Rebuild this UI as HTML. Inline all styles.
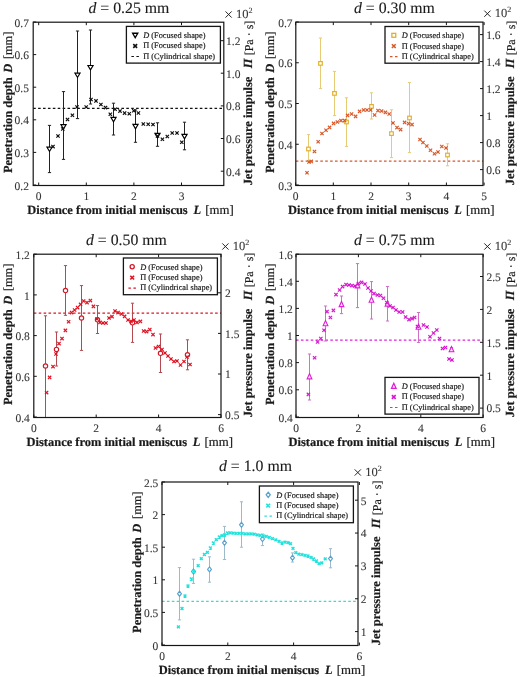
<!DOCTYPE html>
<html><head><meta charset="utf-8"><style>
html,body{margin:0;padding:0;background:#fff;}
svg{display:block;filter:blur(0.3px);}
text{font-family:"Liberation Serif", serif;fill:#1a1a1a;text-rendering:geometricPrecision;}
.tk{font-size:11.5px;fill:#363636;stroke:#363636;stroke-width:0.1px;}
.ti{font-size:15.8px;stroke:#1a1a1a;stroke-width:0.12px;}
.al{font-size:12.45px;font-weight:bold;stroke:#1a1a1a;stroke-width:0.2px;}
.lg{font-size:8.3px;fill:#1a1a1a;stroke:#1a1a1a;stroke-width:0.18px;}
</style></head><body>
<svg width="520" height="677" viewBox="0 0 520 677">
<rect width="520" height="677" fill="#fff"/>
<clipPath id="c3322"><rect x="33.2" y="22.2" width="190.60" height="163.30"/></clipPath>
<g clip-path="url(#c3322)">
<line x1="33.2" y1="108.4" x2="223.8" y2="108.4" stroke="#111" stroke-width="1.2" stroke-dasharray="2.6,2.3"/>
<path d="M49.50,125.40V172.60M47.90,125.40H51.10M47.90,172.60H51.10" stroke="#222" stroke-width="1" fill="none"/>
<path d="M46.90,147.05L52.10,147.05L49.50,151.47Z" fill="#fff" stroke="#000" stroke-width="1.15" stroke-linejoin="miter"/>
<path d="M63.50,91.60V159.40M61.90,91.60H65.10M61.90,159.40H65.10" stroke="#222" stroke-width="1" fill="none"/>
<path d="M60.90,124.65L66.10,124.65L63.50,129.07Z" fill="#fff" stroke="#000" stroke-width="1.15" stroke-linejoin="miter"/>
<path d="M77.50,31.00V118.60M75.90,31.00H79.10M75.90,118.60H79.10" stroke="#222" stroke-width="1" fill="none"/>
<path d="M74.90,73.05L80.10,73.05L77.50,77.47Z" fill="#fff" stroke="#000" stroke-width="1.15" stroke-linejoin="miter"/>
<path d="M90.50,30.00V104.00M88.90,30.00H92.10M88.90,104.00H92.10" stroke="#222" stroke-width="1" fill="none"/>
<path d="M87.90,65.45L93.10,65.45L90.50,69.87Z" fill="#fff" stroke="#000" stroke-width="1.15" stroke-linejoin="miter"/>
<path d="M113.50,103.20V135.00M111.90,103.20H115.10M111.90,135.00H115.10" stroke="#222" stroke-width="1" fill="none"/>
<path d="M110.90,117.35L116.10,117.35L113.50,121.77Z" fill="#fff" stroke="#000" stroke-width="1.15" stroke-linejoin="miter"/>
<path d="M135.50,110.00V142.30M133.90,110.00H137.10M133.90,142.30H137.10" stroke="#222" stroke-width="1" fill="none"/>
<path d="M132.90,124.35L138.10,124.35L135.50,128.77Z" fill="#fff" stroke="#000" stroke-width="1.15" stroke-linejoin="miter"/>
<path d="M157.50,122.80V146.30M155.90,122.80H159.10M155.90,146.30H159.10" stroke="#222" stroke-width="1" fill="none"/>
<path d="M154.90,133.35L160.10,133.35L157.50,137.77Z" fill="#fff" stroke="#000" stroke-width="1.15" stroke-linejoin="miter"/>
<path d="M184.50,122.20V149.80M182.90,122.20H186.10M182.90,149.80H186.10" stroke="#222" stroke-width="1" fill="none"/>
<path d="M181.90,134.35L187.10,134.35L184.50,138.77Z" fill="#fff" stroke="#000" stroke-width="1.15" stroke-linejoin="miter"/>
<path d="M51.35,144.95L54.65,148.25M51.35,148.25L54.65,144.95" stroke="#111" stroke-width="1.2"/>
<path d="M56.35,134.35L59.65,137.65M56.35,137.65L59.65,134.35" stroke="#111" stroke-width="1.2"/>
<path d="M61.15,127.35L64.45,130.65M61.15,130.65L64.45,127.35" stroke="#111" stroke-width="1.2"/>
<path d="M65.85,117.85L69.15,121.15M65.85,121.15L69.15,117.85" stroke="#111" stroke-width="1.2"/>
<path d="M70.75,113.55L74.05,116.85M70.75,116.85L74.05,113.55" stroke="#111" stroke-width="1.2"/>
<path d="M75.35,105.35L78.65,108.65M75.35,108.65L78.65,105.35" stroke="#111" stroke-width="1.2"/>
<path d="M84.55,105.35L87.85,108.65M84.55,108.65L87.85,105.35" stroke="#111" stroke-width="1.2"/>
<path d="M89.35,97.85L92.65,101.15M89.35,101.15L92.65,97.85" stroke="#111" stroke-width="1.2"/>
<path d="M94.35,99.25L97.65,102.55M94.35,102.55L97.65,99.25" stroke="#111" stroke-width="1.2"/>
<path d="M99.25,102.85L102.55,106.15M99.25,106.15L102.55,102.85" stroke="#111" stroke-width="1.2"/>
<path d="M103.85,105.95L107.15,109.25M103.85,109.25L107.15,105.95" stroke="#111" stroke-width="1.2"/>
<path d="M108.65,112.65L111.95,115.95M108.65,115.95L111.95,112.65" stroke="#111" stroke-width="1.2"/>
<path d="M113.45,107.65L116.75,110.95M113.45,110.95L116.75,107.65" stroke="#111" stroke-width="1.2"/>
<path d="M118.35,109.45L121.65,112.75M118.35,112.75L121.65,109.45" stroke="#111" stroke-width="1.2"/>
<path d="M122.95,111.45L126.25,114.75M122.95,114.75L126.25,111.45" stroke="#111" stroke-width="1.2"/>
<path d="M127.65,112.05L130.95,115.35M127.65,115.35L130.95,112.05" stroke="#111" stroke-width="1.2"/>
<path d="M132.15,109.05L135.45,112.35M132.15,112.35L135.45,109.05" stroke="#111" stroke-width="1.2"/>
<path d="M136.75,111.35L140.05,114.65M136.75,114.65L140.05,111.35" stroke="#111" stroke-width="1.2"/>
<path d="M141.65,122.35L144.95,125.65M141.65,125.65L144.95,122.35" stroke="#111" stroke-width="1.2"/>
<path d="M146.55,122.65L149.85,125.95M146.55,125.95L149.85,122.65" stroke="#111" stroke-width="1.2"/>
<path d="M151.35,122.85L154.65,126.15M151.35,126.15L154.65,122.85" stroke="#111" stroke-width="1.2"/>
<path d="M155.85,134.35L159.15,137.65M155.85,137.65L159.15,134.35" stroke="#111" stroke-width="1.2"/>
<path d="M160.75,137.65L164.05,140.95M160.75,140.95L164.05,137.65" stroke="#111" stroke-width="1.2"/>
<path d="M165.65,134.85L168.95,138.15M165.65,138.15L168.95,134.85" stroke="#111" stroke-width="1.2"/>
<path d="M170.55,131.35L173.85,134.65M170.55,134.65L173.85,131.35" stroke="#111" stroke-width="1.2"/>
<path d="M175.35,131.35L178.65,134.65M175.35,134.65L178.65,131.35" stroke="#111" stroke-width="1.2"/>
<path d="M180.15,140.55L183.45,143.85M180.15,143.85L183.45,140.55" stroke="#111" stroke-width="1.2"/>
</g>
<rect x="33.2" y="22.2" width="190.60" height="163.30" fill="none" stroke="#151515" stroke-width="1.2"/>
<path d="M38.70,185.5V182.5M38.70,22.2V25.2" stroke="#151515" stroke-width="1"/>
<text x="38.70" y="200.00" text-anchor="middle" class="tk">0</text>
<path d="M86.30,185.5V182.5M86.30,22.2V25.2" stroke="#151515" stroke-width="1"/>
<text x="86.30" y="200.00" text-anchor="middle" class="tk">1</text>
<path d="M133.90,185.5V182.5M133.90,22.2V25.2" stroke="#151515" stroke-width="1"/>
<text x="133.90" y="200.00" text-anchor="middle" class="tk">2</text>
<path d="M181.50,185.5V182.5M181.50,22.2V25.2" stroke="#151515" stroke-width="1"/>
<text x="181.50" y="200.00" text-anchor="middle" class="tk">3</text>
<path d="M33.2,22.00H36.2" stroke="#151515" stroke-width="1"/>
<text x="28.90" y="26.60" text-anchor="end" class="tk">0.7</text>
<path d="M33.2,54.60H36.2" stroke="#151515" stroke-width="1"/>
<text x="28.90" y="59.20" text-anchor="end" class="tk">0.6</text>
<path d="M33.2,87.20H36.2" stroke="#151515" stroke-width="1"/>
<text x="28.90" y="91.80" text-anchor="end" class="tk">0.5</text>
<path d="M33.2,119.80H36.2" stroke="#151515" stroke-width="1"/>
<text x="28.90" y="124.40" text-anchor="end" class="tk">0.4</text>
<path d="M33.2,152.40H36.2" stroke="#151515" stroke-width="1"/>
<text x="28.90" y="157.00" text-anchor="end" class="tk">0.3</text>
<path d="M33.2,185.00H36.2" stroke="#151515" stroke-width="1"/>
<text x="28.90" y="189.60" text-anchor="end" class="tk">0.2</text>
<path d="M223.8,40.70H220.8" stroke="#151515" stroke-width="1"/>
<text x="226.00" y="45.00" class="tk">1.2</text>
<path d="M223.8,73.20H220.8" stroke="#151515" stroke-width="1"/>
<text x="226.00" y="77.50" class="tk">1.0</text>
<path d="M223.8,105.90H220.8" stroke="#151515" stroke-width="1"/>
<text x="226.00" y="110.20" class="tk">0.8</text>
<path d="M223.8,138.50H220.8" stroke="#151515" stroke-width="1"/>
<text x="226.00" y="142.80" class="tk">0.6</text>
<path d="M223.8,171.20H220.8" stroke="#151515" stroke-width="1"/>
<text x="226.00" y="175.50" class="tk">0.4</text>
<text x="88.5" y="13" class="ti"><tspan font-style="italic">d</tspan> = 0.25 mm</text>
<text y="214.4" class="al"><tspan x="27.30">Distance from initial meniscus</tspan><tspan x="193.50" font-style="italic">L</tspan><tspan x="205.30" font-weight="normal" font-size="12.8">[mm]</tspan></text>
<text transform="translate(12.1,173.05) rotate(-90)" class="al"><tspan x="0">Penetration depth</tspan><tspan x="100.3" font-style="italic">D</tspan><tspan x="114" font-weight="normal" font-size="12.3">[mm]</tspan></text>
<text transform="translate(251.8,185.35) rotate(-90)" class="al"><tspan x="0">Jet pressure impulse</tspan><tspan x="117" font-style="italic">Π</tspan><tspan x="130" dy="0.8" font-weight="normal" font-size="12">[Pa · s]</tspan></text>
<path d="M225.50,11.40l6.2,6.2M225.50,17.60l6.2,-6.2" stroke="#1a1a1a" stroke-width="0.95"/>
<text x="236.00" y="18" class="tk" style="font-size:12.5px">10<tspan dy="-5.5" font-size="8">2</tspan></text>
<rect x="126.4" y="26.4" width="94" height="36.7" fill="#fff" stroke="#151515" stroke-width="1.3"/>
<path d="M132.60,33.25L137.80,33.25L135.20,37.67Z" fill="#fff" stroke="#000" stroke-width="1.3" stroke-linejoin="miter"/>
<path d="M133.30,44.10L137.10,47.90M133.30,47.90L137.10,44.10" stroke="#111" stroke-width="1.6"/>
<line x1="131.4" y1="56.5" x2="139.4" y2="56.5" stroke="#111" stroke-width="1.2" stroke-dasharray="2.5,2.5"/>
<text x="143.20000000000002" y="38.0" class="lg"><tspan font-style="italic">D</tspan> (Focused shape)</text>
<text x="143.20000000000002" y="48.4" class="lg">Π (Focused shape)</text>
<text x="143.20000000000002" y="58.699999999999996" class="lg">Π (Cylindrical shape)</text>
<clipPath id="c29522"><rect x="295.8" y="22.1" width="187.20" height="163.40"/></clipPath>
<g clip-path="url(#c29522)">
<line x1="295.8" y1="161.2" x2="483" y2="161.2" stroke="#D4582A" stroke-width="1.2" stroke-dasharray="2.6,2.3"/>
<path d="M308.50,134.60V161.00M306.90,134.60H310.10M306.90,161.00H310.10" stroke="#E6CA74" stroke-width="1" fill="none"/>
<rect x="306.70" y="147.20" width="3.60" height="3.60" fill="#fff" stroke="#E2AE2A" stroke-width="1.15"/>
<path d="M320.50,38.00V88.60M318.90,38.00H322.10M318.90,88.60H322.10" stroke="#E6CA74" stroke-width="1" fill="none"/>
<rect x="318.70" y="61.60" width="3.60" height="3.60" fill="#fff" stroke="#E2AE2A" stroke-width="1.15"/>
<path d="M334.50,71.40V115.60M332.90,71.40H336.10M332.90,115.60H336.10" stroke="#E6CA74" stroke-width="1" fill="none"/>
<rect x="332.70" y="91.60" width="3.60" height="3.60" fill="#fff" stroke="#E2AE2A" stroke-width="1.15"/>
<path d="M346.50,97.80V146.40M344.90,97.80H348.10M344.90,146.40H348.10" stroke="#E6CA74" stroke-width="1" fill="none"/>
<rect x="344.70" y="120.20" width="3.60" height="3.60" fill="#fff" stroke="#E2AE2A" stroke-width="1.15"/>
<path d="M371.50,92.80V119.00M369.90,92.80H373.10M369.90,119.00H373.10" stroke="#E6CA74" stroke-width="1" fill="none"/>
<rect x="369.70" y="104.60" width="3.60" height="3.60" fill="#fff" stroke="#E2AE2A" stroke-width="1.15"/>
<path d="M391.50,109.80V157.60M389.90,109.80H393.10M389.90,157.60H393.10" stroke="#E6CA74" stroke-width="1" fill="none"/>
<rect x="389.70" y="131.80" width="3.60" height="3.60" fill="#fff" stroke="#E2AE2A" stroke-width="1.15"/>
<path d="M409.50,82.60V152.60M407.90,82.60H411.10M407.90,152.60H411.10" stroke="#E6CA74" stroke-width="1" fill="none"/>
<rect x="407.70" y="116.20" width="3.60" height="3.60" fill="#fff" stroke="#E2AE2A" stroke-width="1.15"/>
<path d="M447.50,143.80V165.80M445.90,143.80H449.10M445.90,165.80H449.10" stroke="#E6CA74" stroke-width="1" fill="none"/>
<rect x="445.70" y="153.20" width="3.60" height="3.60" fill="#fff" stroke="#E2AE2A" stroke-width="1.15"/>
<path d="M305.35,171.15L308.65,174.45M305.35,174.45L308.65,171.15" stroke="#D85A2C" stroke-width="1.2"/>
<path d="M307.35,160.35L310.65,163.65M307.35,163.65L310.65,160.35" stroke="#D85A2C" stroke-width="1.2"/>
<path d="M309.55,159.75L312.85,163.05M309.55,163.05L312.85,159.75" stroke="#D85A2C" stroke-width="1.2"/>
<path d="M312.85,149.85L316.15,153.15M312.85,153.15L316.15,149.85" stroke="#D85A2C" stroke-width="1.2"/>
<path d="M316.55,140.15L319.85,143.45M316.55,143.45L319.85,140.15" stroke="#D85A2C" stroke-width="1.2"/>
<path d="M320.35,131.85L323.65,135.15M320.35,135.15L323.65,131.85" stroke="#D85A2C" stroke-width="1.2"/>
<path d="M324.35,128.55L327.65,131.85M324.35,131.85L327.65,128.55" stroke="#D85A2C" stroke-width="1.2"/>
<path d="M327.95,125.75L331.25,129.05M327.95,129.05L331.25,125.75" stroke="#D85A2C" stroke-width="1.2"/>
<path d="M331.95,121.75L335.25,125.05M331.95,125.05L335.25,121.75" stroke="#D85A2C" stroke-width="1.2"/>
<path d="M335.75,120.35L339.05,123.65M335.75,123.65L339.05,120.35" stroke="#D85A2C" stroke-width="1.2"/>
<path d="M339.35,118.95L342.65,122.25M339.35,122.25L342.65,118.95" stroke="#D85A2C" stroke-width="1.2"/>
<path d="M342.95,118.95L346.25,122.25M342.95,122.25L346.25,118.95" stroke="#D85A2C" stroke-width="1.2"/>
<path d="M345.95,113.75L349.25,117.05M345.95,117.05L349.25,113.75" stroke="#D85A2C" stroke-width="1.2"/>
<path d="M349.95,112.35L353.25,115.65M349.95,115.65L353.25,112.35" stroke="#D85A2C" stroke-width="1.2"/>
<path d="M353.95,114.75L357.25,118.05M353.95,118.05L357.25,114.75" stroke="#D85A2C" stroke-width="1.2"/>
<path d="M357.95,109.75L361.25,113.05M357.95,113.05L361.25,109.75" stroke="#D85A2C" stroke-width="1.2"/>
<path d="M361.95,108.35L365.25,111.65M361.95,111.65L365.25,108.35" stroke="#D85A2C" stroke-width="1.2"/>
<path d="M365.35,108.35L368.65,111.65M365.35,111.65L368.65,108.35" stroke="#D85A2C" stroke-width="1.2"/>
<path d="M368.95,108.35L372.25,111.65M368.95,111.65L372.25,108.35" stroke="#D85A2C" stroke-width="1.2"/>
<path d="M372.95,113.35L376.25,116.65M372.95,116.65L376.25,113.35" stroke="#D85A2C" stroke-width="1.2"/>
<path d="M376.35,108.95L379.65,112.25M376.35,112.25L379.65,108.95" stroke="#D85A2C" stroke-width="1.2"/>
<path d="M379.95,109.35L383.25,112.65M379.95,112.65L383.25,109.35" stroke="#D85A2C" stroke-width="1.2"/>
<path d="M383.75,110.75L387.05,114.05M383.75,114.05L387.05,110.75" stroke="#D85A2C" stroke-width="1.2"/>
<path d="M387.55,112.35L390.85,115.65M387.55,115.65L390.85,112.35" stroke="#D85A2C" stroke-width="1.2"/>
<path d="M391.35,121.35L394.65,124.65M391.35,124.65L394.65,121.35" stroke="#D85A2C" stroke-width="1.2"/>
<path d="M395.35,125.95L398.65,129.25M395.35,129.25L398.65,125.95" stroke="#D85A2C" stroke-width="1.2"/>
<path d="M398.95,127.95L402.25,131.25M398.95,131.25L402.25,127.95" stroke="#D85A2C" stroke-width="1.2"/>
<path d="M402.95,120.75L406.25,124.05M402.95,124.05L406.25,120.75" stroke="#D85A2C" stroke-width="1.2"/>
<path d="M406.95,121.95L410.25,125.25M406.95,125.25L410.25,121.95" stroke="#D85A2C" stroke-width="1.2"/>
<path d="M410.35,122.95L413.65,126.25M410.35,126.25L413.65,122.95" stroke="#D85A2C" stroke-width="1.2"/>
<path d="M418.35,137.85L421.65,141.15M418.35,141.15L421.65,137.85" stroke="#D85A2C" stroke-width="1.2"/>
<path d="M421.35,140.85L424.65,144.15M421.35,144.15L424.65,140.85" stroke="#D85A2C" stroke-width="1.2"/>
<path d="M425.15,144.35L428.45,147.65M425.15,147.65L428.45,144.35" stroke="#D85A2C" stroke-width="1.2"/>
<path d="M428.85,148.65L432.15,151.95M428.85,151.95L432.15,148.65" stroke="#D85A2C" stroke-width="1.2"/>
<path d="M432.85,152.15L436.15,155.45M432.85,155.45L436.15,152.15" stroke="#D85A2C" stroke-width="1.2"/>
<path d="M436.35,150.35L439.65,153.65M436.35,153.65L439.65,150.35" stroke="#D85A2C" stroke-width="1.2"/>
<path d="M440.15,144.85L443.45,148.15M440.15,148.15L443.45,144.85" stroke="#D85A2C" stroke-width="1.2"/>
<path d="M444.35,146.35L447.65,149.65M444.35,149.65L447.65,146.35" stroke="#D85A2C" stroke-width="1.2"/>
</g>
<rect x="295.8" y="22.1" width="187.20" height="163.40" fill="none" stroke="#151515" stroke-width="1.2"/>
<path d="M295.60,185.5V182.5M295.60,22.1V25.1" stroke="#151515" stroke-width="1"/>
<text x="295.60" y="200.00" text-anchor="middle" class="tk">0</text>
<path d="M333.30,185.5V182.5M333.30,22.1V25.1" stroke="#151515" stroke-width="1"/>
<text x="333.30" y="200.00" text-anchor="middle" class="tk">1</text>
<path d="M371.00,185.5V182.5M371.00,22.1V25.1" stroke="#151515" stroke-width="1"/>
<text x="371.00" y="200.00" text-anchor="middle" class="tk">2</text>
<path d="M408.70,185.5V182.5M408.70,22.1V25.1" stroke="#151515" stroke-width="1"/>
<text x="408.70" y="200.00" text-anchor="middle" class="tk">3</text>
<path d="M446.40,185.5V182.5M446.40,22.1V25.1" stroke="#151515" stroke-width="1"/>
<text x="446.40" y="200.00" text-anchor="middle" class="tk">4</text>
<path d="M484.10,185.5V182.5M484.10,22.1V25.1" stroke="#151515" stroke-width="1"/>
<text x="484.10" y="200.00" text-anchor="middle" class="tk">5</text>
<path d="M295.8,22.00H298.8" stroke="#151515" stroke-width="1"/>
<text x="292.60" y="26.60" text-anchor="end" class="tk">0.7</text>
<path d="M295.8,62.75H298.8" stroke="#151515" stroke-width="1"/>
<text x="292.60" y="67.35" text-anchor="end" class="tk">0.6</text>
<path d="M295.8,103.50H298.8" stroke="#151515" stroke-width="1"/>
<text x="292.60" y="108.10" text-anchor="end" class="tk">0.5</text>
<path d="M295.8,144.25H298.8" stroke="#151515" stroke-width="1"/>
<text x="292.60" y="148.85" text-anchor="end" class="tk">0.4</text>
<path d="M295.8,185.00H298.8" stroke="#151515" stroke-width="1"/>
<text x="292.60" y="189.60" text-anchor="end" class="tk">0.3</text>
<path d="M483,34.60H480" stroke="#151515" stroke-width="1"/>
<text x="486.20" y="38.90" class="tk">1.6</text>
<path d="M483,61.60H480" stroke="#151515" stroke-width="1"/>
<text x="486.20" y="65.90" class="tk">1.4</text>
<path d="M483,88.60H480" stroke="#151515" stroke-width="1"/>
<text x="486.20" y="92.90" class="tk">1.2</text>
<path d="M483,115.60H480" stroke="#151515" stroke-width="1"/>
<text x="486.20" y="119.90" class="tk">1</text>
<path d="M483,142.60H480" stroke="#151515" stroke-width="1"/>
<text x="486.20" y="146.90" class="tk">0.8</text>
<path d="M483,169.60H480" stroke="#151515" stroke-width="1"/>
<text x="486.20" y="173.90" class="tk">0.6</text>
<text x="354" y="13" class="ti"><tspan font-style="italic">d</tspan> = 0.30 mm</text>
<text y="214.2" class="al"><tspan x="288.10">Distance from initial meniscus</tspan><tspan x="454.30" font-style="italic">L</tspan><tspan x="466.10" font-weight="normal" font-size="12.8">[mm]</tspan></text>
<text transform="translate(273.5,173.00) rotate(-90)" class="al"><tspan x="0">Penetration depth</tspan><tspan x="100.3" font-style="italic">D</tspan><tspan x="114" font-weight="normal" font-size="12.3">[mm]</tspan></text>
<text transform="translate(513.8,185.30) rotate(-90)" class="al"><tspan x="0">Jet pressure impulse</tspan><tspan x="117" font-style="italic">Π</tspan><tspan x="130" dy="0.8" font-weight="normal" font-size="12">[Pa · s]</tspan></text>
<path d="M484.30,10.60l6.2,6.2M484.30,16.80l6.2,-6.2" stroke="#1a1a1a" stroke-width="0.95"/>
<text x="494.80" y="17.2" class="tk" style="font-size:12.5px">10<tspan dy="-5.5" font-size="8">2</tspan></text>
<rect x="385" y="26.5" width="94" height="36.7" fill="#fff" stroke="#151515" stroke-width="1.3"/>
<rect x="391.85" y="33.35" width="3.90" height="3.90" fill="#fff" stroke="#E2AE2A" stroke-width="1.3"/>
<path d="M391.90,44.20L395.70,48.00M391.90,48.00L395.70,44.20" stroke="#D85A2C" stroke-width="1.6"/>
<line x1="390" y1="56.6" x2="398" y2="56.6" stroke="#D4582A" stroke-width="1.2" stroke-dasharray="2.5,2.5"/>
<text x="401.8" y="38.1" class="lg"><tspan font-style="italic">D</tspan> (Focused shape)</text>
<text x="401.8" y="48.5" class="lg">Π (Focused shape)</text>
<text x="401.8" y="58.8" class="lg">Π (Cylindrical shape)</text>
<clipPath id="c33254"><rect x="33.8" y="254.2" width="187.20" height="163.30"/></clipPath>
<g clip-path="url(#c33254)">
<line x1="33.8" y1="313.2" x2="221" y2="313.2" stroke="#DE1426" stroke-width="1.2" stroke-dasharray="2.6,2.3"/>
<path d="M45.50,315.80V420.00M43.90,315.80H47.10M43.90,420.00H47.10" stroke="#B44A50" stroke-width="1" fill="none"/>
<circle cx="45.50" cy="366.00" r="2.16" fill="#fff" stroke="#D01A28" stroke-width="1.15"/>
<path d="M56.50,332.00V366.00M54.90,332.00H58.10M54.90,366.00H58.10" stroke="#B44A50" stroke-width="1" fill="none"/>
<circle cx="56.50" cy="349.40" r="2.16" fill="#fff" stroke="#D01A28" stroke-width="1.15"/>
<path d="M65.50,265.60V315.30M63.90,265.60H67.10M63.90,315.30H67.10" stroke="#B44A50" stroke-width="1" fill="none"/>
<circle cx="65.50" cy="290.60" r="2.16" fill="#fff" stroke="#D01A28" stroke-width="1.15"/>
<path d="M81.50,285.60V350.40M79.90,285.60H83.10M79.90,350.40H83.10" stroke="#B44A50" stroke-width="1" fill="none"/>
<circle cx="81.50" cy="318.00" r="2.16" fill="#fff" stroke="#D01A28" stroke-width="1.15"/>
<path d="M97.50,305.60V333.50M95.90,305.60H99.10M95.90,333.50H99.10" stroke="#B44A50" stroke-width="1" fill="none"/>
<circle cx="97.50" cy="319.80" r="2.16" fill="#fff" stroke="#D01A28" stroke-width="1.15"/>
<path d="M132.50,303.20V342.40M130.90,303.20H134.10M130.90,342.40H134.10" stroke="#B44A50" stroke-width="1" fill="none"/>
<circle cx="132.50" cy="322.80" r="2.16" fill="#fff" stroke="#D01A28" stroke-width="1.15"/>
<path d="M160.50,334.00V372.50M158.90,334.00H162.10M158.90,372.50H162.10" stroke="#B44A50" stroke-width="1" fill="none"/>
<circle cx="160.50" cy="353.30" r="2.16" fill="#fff" stroke="#D01A28" stroke-width="1.15"/>
<path d="M187.50,339.80V369.80M185.90,339.80H189.10M185.90,369.80H189.10" stroke="#B44A50" stroke-width="1" fill="none"/>
<circle cx="187.50" cy="354.80" r="2.16" fill="#fff" stroke="#D01A28" stroke-width="1.15"/>
<path d="M44.95,390.95L48.25,394.25M44.95,394.25L48.25,390.95" stroke="#DE1424" stroke-width="1.2"/>
<path d="M47.95,375.75L51.25,379.05M47.95,379.05L51.25,375.75" stroke="#DE1424" stroke-width="1.2"/>
<path d="M51.35,364.95L54.65,368.25M51.35,368.25L54.65,364.95" stroke="#DE1424" stroke-width="1.2"/>
<path d="M54.35,352.35L57.65,355.65M54.35,355.65L57.65,352.35" stroke="#DE1424" stroke-width="1.2"/>
<path d="M57.35,341.95L60.65,345.25M57.35,345.25L60.65,341.95" stroke="#DE1424" stroke-width="1.2"/>
<path d="M60.35,336.95L63.65,340.25M60.35,340.25L63.65,336.95" stroke="#DE1424" stroke-width="1.2"/>
<path d="M63.75,328.75L67.05,332.05M63.75,332.05L67.05,328.75" stroke="#DE1424" stroke-width="1.2"/>
<path d="M66.95,320.15L70.25,323.45M66.95,323.45L70.25,320.15" stroke="#DE1424" stroke-width="1.2"/>
<path d="M69.95,310.95L73.25,314.25M69.95,314.25L73.25,310.95" stroke="#DE1424" stroke-width="1.2"/>
<path d="M72.95,308.35L76.25,311.65M72.95,311.65L76.25,308.35" stroke="#DE1424" stroke-width="1.2"/>
<path d="M75.95,305.95L79.25,309.25M75.95,309.25L79.25,305.95" stroke="#DE1424" stroke-width="1.2"/>
<path d="M78.95,302.75L82.25,306.05M78.95,306.05L82.25,302.75" stroke="#DE1424" stroke-width="1.2"/>
<path d="M81.95,299.35L85.25,302.65M81.95,302.65L85.25,299.35" stroke="#DE1424" stroke-width="1.2"/>
<path d="M85.35,300.95L88.65,304.25M85.35,304.25L88.65,300.95" stroke="#DE1424" stroke-width="1.2"/>
<path d="M88.75,298.95L92.05,302.25M88.75,302.25L92.05,298.95" stroke="#DE1424" stroke-width="1.2"/>
<path d="M91.75,304.75L95.05,308.05M91.75,308.05L95.05,304.75" stroke="#DE1424" stroke-width="1.2"/>
<path d="M95.35,317.35L98.65,320.65M95.35,320.65L98.65,317.35" stroke="#DE1424" stroke-width="1.2"/>
<path d="M98.35,320.75L101.65,324.05M98.35,324.05L101.65,320.75" stroke="#DE1424" stroke-width="1.2"/>
<path d="M101.35,321.35L104.65,324.65M101.35,324.65L104.65,321.35" stroke="#DE1424" stroke-width="1.2"/>
<path d="M104.35,321.35L107.65,324.65M104.35,324.65L107.65,321.35" stroke="#DE1424" stroke-width="1.2"/>
<path d="M107.35,316.35L110.65,319.65M107.35,319.65L110.65,316.35" stroke="#DE1424" stroke-width="1.2"/>
<path d="M110.35,314.95L113.65,318.25M110.35,318.25L113.65,314.95" stroke="#DE1424" stroke-width="1.2"/>
<path d="M113.35,309.35L116.65,312.65M113.35,312.65L116.65,309.35" stroke="#DE1424" stroke-width="1.2"/>
<path d="M116.35,310.95L119.65,314.25M116.35,314.25L119.65,310.95" stroke="#DE1424" stroke-width="1.2"/>
<path d="M119.75,312.35L123.05,315.65M119.75,315.65L123.05,312.35" stroke="#DE1424" stroke-width="1.2"/>
<path d="M122.95,314.75L126.25,318.05M122.95,318.05L126.25,314.75" stroke="#DE1424" stroke-width="1.2"/>
<path d="M126.35,318.35L129.65,321.65M126.35,321.65L129.65,318.35" stroke="#DE1424" stroke-width="1.2"/>
<path d="M129.35,319.75L132.65,323.05M129.35,323.05L132.65,319.75" stroke="#DE1424" stroke-width="1.2"/>
<path d="M132.35,318.35L135.65,321.65M132.35,321.65L135.65,318.35" stroke="#DE1424" stroke-width="1.2"/>
<path d="M135.35,320.75L138.65,324.05M135.35,324.05L138.65,320.75" stroke="#DE1424" stroke-width="1.2"/>
<path d="M138.75,319.75L142.05,323.05M138.75,323.05L142.05,319.75" stroke="#DE1424" stroke-width="1.2"/>
<path d="M141.95,329.35L145.25,332.65M141.95,332.65L145.25,329.35" stroke="#DE1424" stroke-width="1.2"/>
<path d="M144.95,329.95L148.25,333.25M144.95,333.25L148.25,329.95" stroke="#DE1424" stroke-width="1.2"/>
<path d="M148.15,327.95L151.45,331.25M148.15,331.25L151.45,327.95" stroke="#DE1424" stroke-width="1.2"/>
<path d="M151.35,332.95L154.65,336.25M151.35,336.25L154.65,332.95" stroke="#DE1424" stroke-width="1.2"/>
<path d="M153.85,346.35L157.15,349.65M153.85,349.65L157.15,346.35" stroke="#DE1424" stroke-width="1.2"/>
<path d="M156.85,344.85L160.15,348.15M156.85,348.15L160.15,344.85" stroke="#DE1424" stroke-width="1.2"/>
<path d="M160.35,347.85L163.65,351.15M160.35,351.15L163.65,347.85" stroke="#DE1424" stroke-width="1.2"/>
<path d="M163.35,351.35L166.65,354.65M163.35,354.65L166.65,351.35" stroke="#DE1424" stroke-width="1.2"/>
<path d="M166.35,354.35L169.65,357.65M166.35,357.65L169.65,354.35" stroke="#DE1424" stroke-width="1.2"/>
<path d="M169.35,357.35L172.65,360.65M169.35,360.65L172.65,357.35" stroke="#DE1424" stroke-width="1.2"/>
<path d="M172.35,359.85L175.65,363.15M172.35,363.15L175.65,359.85" stroke="#DE1424" stroke-width="1.2"/>
<path d="M175.35,359.35L178.65,362.65M175.35,362.65L178.65,359.35" stroke="#DE1424" stroke-width="1.2"/>
<path d="M178.85,363.35L182.15,366.65M178.85,366.65L182.15,363.35" stroke="#DE1424" stroke-width="1.2"/>
<path d="M182.35,359.85L185.65,363.15M182.35,363.15L185.65,359.85" stroke="#DE1424" stroke-width="1.2"/>
<path d="M185.35,355.35L188.65,358.65M185.35,358.65L188.65,355.35" stroke="#DE1424" stroke-width="1.2"/>
<path d="M188.35,362.85L191.65,366.15M188.35,366.15L191.65,362.85" stroke="#DE1424" stroke-width="1.2"/>
</g>
<rect x="33.8" y="254.2" width="187.20" height="163.30" fill="none" stroke="#151515" stroke-width="1.2"/>
<path d="M33.80,417.5V414.5M33.80,254.2V257.2" stroke="#151515" stroke-width="1"/>
<text x="33.80" y="432.00" text-anchor="middle" class="tk">0</text>
<path d="M96.20,417.5V414.5M96.20,254.2V257.2" stroke="#151515" stroke-width="1"/>
<text x="96.20" y="432.00" text-anchor="middle" class="tk">2</text>
<path d="M158.60,417.5V414.5M158.60,254.2V257.2" stroke="#151515" stroke-width="1"/>
<text x="158.60" y="432.00" text-anchor="middle" class="tk">4</text>
<path d="M221.00,417.5V414.5M221.00,254.2V257.2" stroke="#151515" stroke-width="1"/>
<text x="221.00" y="432.00" text-anchor="middle" class="tk">6</text>
<path d="M33.8,254.20H36.8" stroke="#151515" stroke-width="1"/>
<text x="29.80" y="258.80" text-anchor="end" class="tk">1.2</text>
<path d="M33.8,294.90H36.8" stroke="#151515" stroke-width="1"/>
<text x="29.80" y="299.50" text-anchor="end" class="tk">1</text>
<path d="M33.8,335.60H36.8" stroke="#151515" stroke-width="1"/>
<text x="29.80" y="340.20" text-anchor="end" class="tk">0.8</text>
<path d="M33.8,376.30H36.8" stroke="#151515" stroke-width="1"/>
<text x="29.80" y="380.90" text-anchor="end" class="tk">0.6</text>
<path d="M33.8,417.00H36.8" stroke="#151515" stroke-width="1"/>
<text x="29.80" y="421.60" text-anchor="end" class="tk">0.4</text>
<path d="M221,292.80H218" stroke="#151515" stroke-width="1"/>
<text x="225.00" y="297.10" class="tk">2</text>
<path d="M221,333.40H218" stroke="#151515" stroke-width="1"/>
<text x="225.00" y="337.70" class="tk">1.5</text>
<path d="M221,374.00H218" stroke="#151515" stroke-width="1"/>
<text x="225.00" y="378.30" class="tk">1</text>
<path d="M221,414.60H218" stroke="#151515" stroke-width="1"/>
<text x="225.00" y="418.90" class="tk">0.5</text>
<text x="86" y="245" class="ti"><tspan font-style="italic">d</tspan> = 0.50 mm</text>
<text y="445.6" class="al"><tspan x="26.60">Distance from initial meniscus</tspan><tspan x="192.80" font-style="italic">L</tspan><tspan x="204.60" font-weight="normal" font-size="12.8">[mm]</tspan></text>
<text transform="translate(12.1,405.05) rotate(-90)" class="al"><tspan x="0">Penetration depth</tspan><tspan x="100.3" font-style="italic">D</tspan><tspan x="114" font-weight="normal" font-size="12.3">[mm]</tspan></text>
<text transform="translate(252.3,417.35) rotate(-90)" class="al"><tspan x="0">Jet pressure impulse</tspan><tspan x="117" font-style="italic">Π</tspan><tspan x="130" dy="0.8" font-weight="normal" font-size="12">[Pa · s]</tspan></text>
<path d="M222.30,243.40l6.2,6.2M222.30,249.60l6.2,-6.2" stroke="#1a1a1a" stroke-width="0.95"/>
<text x="232.80" y="250" class="tk" style="font-size:12.5px">10<tspan dy="-5.5" font-size="8">2</tspan></text>
<rect x="123.4" y="258" width="94" height="36.7" fill="#fff" stroke="#151515" stroke-width="1.3"/>
<circle cx="132.20" cy="266.80" r="2.08" fill="#fff" stroke="#D01A28" stroke-width="1.3"/>
<path d="M130.30,275.70L134.10,279.50M130.30,279.50L134.10,275.70" stroke="#DE1424" stroke-width="1.6"/>
<line x1="128.4" y1="288.1" x2="136.4" y2="288.1" stroke="#DE1426" stroke-width="1.2" stroke-dasharray="2.5,2.5"/>
<text x="140.20000000000002" y="269.6" class="lg"><tspan font-style="italic">D</tspan> (Focused shape)</text>
<text x="140.20000000000002" y="280.0" class="lg">Π (Focused shape)</text>
<text x="140.20000000000002" y="290.3" class="lg">Π (Cylindrical shape)</text>
<clipPath id="c296254"><rect x="296" y="254.2" width="187.00" height="163.30"/></clipPath>
<g clip-path="url(#c296254)">
<line x1="296" y1="340.2" x2="483" y2="340.2" stroke="#E020E0" stroke-width="1.2" stroke-dasharray="2.6,2.3"/>
<path d="M309.50,354.00V400.00M307.90,354.00H311.10M307.90,400.00H311.10" stroke="#D070C8" stroke-width="1" fill="none"/>
<path d="M307.17,378.85L311.83,378.85L309.50,373.69Z" fill="#fff" stroke="#E020D8" stroke-width="1.15"/>
<path d="M325.50,306.00V341.00M323.90,306.00H327.10M323.90,341.00H327.10" stroke="#D070C8" stroke-width="1" fill="none"/>
<path d="M323.17,325.75L327.83,325.75L325.50,320.58Z" fill="#fff" stroke="#E020D8" stroke-width="1.15"/>
<path d="M341.50,296.00V313.60M339.90,296.00H343.10M339.90,313.60H343.10" stroke="#D070C8" stroke-width="1" fill="none"/>
<path d="M339.17,306.65L343.83,306.65L341.50,301.48Z" fill="#fff" stroke="#E020D8" stroke-width="1.15"/>
<path d="M357.50,263.60V307.60M355.90,263.60H359.10M355.90,307.60H359.10" stroke="#D070C8" stroke-width="1" fill="none"/>
<path d="M355.17,287.85L359.83,287.85L357.50,282.69Z" fill="#fff" stroke="#E020D8" stroke-width="1.15"/>
<path d="M371.50,281.60V319.00M369.90,281.60H373.10M369.90,319.00H373.10" stroke="#D070C8" stroke-width="1" fill="none"/>
<path d="M369.17,302.25L373.83,302.25L371.50,297.08Z" fill="#fff" stroke="#E020D8" stroke-width="1.15"/>
<path d="M387.50,286.50V321.00M385.90,286.50H389.10M385.90,321.00H389.10" stroke="#D070C8" stroke-width="1" fill="none"/>
<path d="M385.17,306.05L389.83,306.05L387.50,300.88Z" fill="#fff" stroke="#E020D8" stroke-width="1.15"/>
<path d="M418.50,312.50V342.50M416.90,312.50H420.10M416.90,342.50H420.10" stroke="#D070C8" stroke-width="1" fill="none"/>
<path d="M416.17,329.25L420.83,329.25L418.50,324.08Z" fill="#fff" stroke="#E020D8" stroke-width="1.15"/>
<path d="M451.50,347.50V351.50M449.90,347.50H453.10M449.90,351.50H453.10" stroke="#D070C8" stroke-width="1" fill="none"/>
<path d="M449.17,351.75L453.83,351.75L451.50,346.58Z" fill="#fff" stroke="#E020D8" stroke-width="1.15"/>
<path d="M306.75,392.75L310.05,396.05M306.75,396.05L310.05,392.75" stroke="#D818D0" stroke-width="1.2"/>
<path d="M312.95,356.15L316.25,359.45M312.95,359.45L316.25,356.15" stroke="#D818D0" stroke-width="1.2"/>
<path d="M315.95,340.35L319.25,343.65M315.95,343.65L319.25,340.35" stroke="#D818D0" stroke-width="1.2"/>
<path d="M319.15,336.85L322.45,340.15M319.15,340.15L322.45,336.85" stroke="#D818D0" stroke-width="1.2"/>
<path d="M322.35,328.65L325.65,331.95M322.35,331.95L325.65,328.65" stroke="#D818D0" stroke-width="1.2"/>
<path d="M325.35,309.95L328.65,313.25M325.35,313.25L328.65,309.95" stroke="#D818D0" stroke-width="1.2"/>
<path d="M328.75,315.85L332.05,319.15M328.75,319.15L332.05,315.85" stroke="#D818D0" stroke-width="1.2"/>
<path d="M331.75,308.75L335.05,312.05M331.75,312.05L335.05,308.75" stroke="#D818D0" stroke-width="1.2"/>
<path d="M334.35,292.95L337.65,296.25M334.35,296.25L337.65,292.95" stroke="#D818D0" stroke-width="1.2"/>
<path d="M337.95,288.35L341.25,291.65M337.95,291.65L341.25,288.35" stroke="#D818D0" stroke-width="1.2"/>
<path d="M340.95,284.95L344.25,288.25M340.95,288.25L344.25,284.95" stroke="#D818D0" stroke-width="1.2"/>
<path d="M344.35,282.95L347.65,286.25M344.35,286.25L347.65,282.95" stroke="#D818D0" stroke-width="1.2"/>
<path d="M347.35,283.35L350.65,286.65M347.35,286.65L350.65,283.35" stroke="#D818D0" stroke-width="1.2"/>
<path d="M350.35,283.95L353.65,287.25M350.35,287.25L353.65,283.95" stroke="#D818D0" stroke-width="1.2"/>
<path d="M353.35,284.35L356.65,287.65M353.35,287.65L356.65,284.35" stroke="#D818D0" stroke-width="1.2"/>
<path d="M356.75,281.95L360.05,285.25M356.75,285.25L360.05,281.95" stroke="#D818D0" stroke-width="1.2"/>
<path d="M359.95,280.75L363.25,284.05M359.95,284.05L363.25,280.75" stroke="#D818D0" stroke-width="1.2"/>
<path d="M363.35,282.35L366.65,285.65M363.35,285.65L366.65,282.35" stroke="#D818D0" stroke-width="1.2"/>
<path d="M366.35,286.35L369.65,289.65M366.35,289.65L369.65,286.35" stroke="#D818D0" stroke-width="1.2"/>
<path d="M369.35,289.35L372.65,292.65M369.35,292.65L372.65,289.35" stroke="#D818D0" stroke-width="1.2"/>
<path d="M372.35,291.95L375.65,295.25M372.35,295.25L375.65,291.95" stroke="#D818D0" stroke-width="1.2"/>
<path d="M375.75,293.35L379.05,296.65M375.75,296.65L379.05,293.35" stroke="#D818D0" stroke-width="1.2"/>
<path d="M378.75,293.85L382.05,297.15M378.75,297.15L382.05,293.85" stroke="#D818D0" stroke-width="1.2"/>
<path d="M381.85,296.65L385.15,299.95M381.85,299.95L385.15,296.65" stroke="#D818D0" stroke-width="1.2"/>
<path d="M385.15,300.95L388.45,304.25M385.15,304.25L388.45,300.95" stroke="#D818D0" stroke-width="1.2"/>
<path d="M388.35,304.35L391.65,307.65M388.35,307.65L391.65,304.35" stroke="#D818D0" stroke-width="1.2"/>
<path d="M391.35,305.85L394.65,309.15M391.35,309.15L394.65,305.85" stroke="#D818D0" stroke-width="1.2"/>
<path d="M394.35,308.35L397.65,311.65M394.35,311.65L397.65,308.35" stroke="#D818D0" stroke-width="1.2"/>
<path d="M397.55,310.35L400.85,313.65M397.55,313.65L400.85,310.35" stroke="#D818D0" stroke-width="1.2"/>
<path d="M400.95,310.35L404.25,313.65M400.95,313.65L404.25,310.35" stroke="#D818D0" stroke-width="1.2"/>
<path d="M403.95,315.35L407.25,318.65M403.95,318.65L407.25,315.35" stroke="#D818D0" stroke-width="1.2"/>
<path d="M407.35,317.95L410.65,321.25M407.35,321.25L410.65,317.95" stroke="#D818D0" stroke-width="1.2"/>
<path d="M410.35,316.95L413.65,320.25M410.35,320.25L413.65,316.95" stroke="#D818D0" stroke-width="1.2"/>
<path d="M412.95,315.85L416.25,319.15M412.95,319.15L416.25,315.85" stroke="#D818D0" stroke-width="1.2"/>
<path d="M415.85,324.85L419.15,328.15M415.85,328.15L419.15,324.85" stroke="#D818D0" stroke-width="1.2"/>
<path d="M421.85,323.35L425.15,326.65M421.85,326.65L425.15,323.35" stroke="#D818D0" stroke-width="1.2"/>
<path d="M425.35,325.35L428.65,328.65M425.35,328.65L428.65,325.35" stroke="#D818D0" stroke-width="1.2"/>
<path d="M428.35,335.15L431.65,338.45M428.35,338.45L431.65,335.15" stroke="#D818D0" stroke-width="1.2"/>
<path d="M431.85,331.35L435.15,334.65M431.85,334.65L435.15,331.35" stroke="#D818D0" stroke-width="1.2"/>
<path d="M435.15,328.35L438.45,331.65M435.15,331.65L438.45,328.35" stroke="#D818D0" stroke-width="1.2"/>
<path d="M437.85,336.85L441.15,340.15M437.85,340.15L441.15,336.85" stroke="#D818D0" stroke-width="1.2"/>
<path d="M440.85,346.85L444.15,350.15M440.85,350.15L444.15,346.85" stroke="#D818D0" stroke-width="1.2"/>
<path d="M443.85,345.85L447.15,349.15M443.85,349.15L447.15,345.85" stroke="#D818D0" stroke-width="1.2"/>
<path d="M447.35,357.35L450.65,360.65M447.35,360.65L450.65,357.35" stroke="#D818D0" stroke-width="1.2"/>
<path d="M450.35,358.35L453.65,361.65M450.35,361.65L453.65,358.35" stroke="#D818D0" stroke-width="1.2"/>
</g>
<rect x="296" y="254.2" width="187.00" height="163.30" fill="none" stroke="#151515" stroke-width="1.2"/>
<path d="M296.00,417.5V414.5M296.00,254.2V257.2" stroke="#151515" stroke-width="1"/>
<text x="296.00" y="432.00" text-anchor="middle" class="tk">0</text>
<path d="M358.40,417.5V414.5M358.40,254.2V257.2" stroke="#151515" stroke-width="1"/>
<text x="358.40" y="432.00" text-anchor="middle" class="tk">2</text>
<path d="M420.80,417.5V414.5M420.80,254.2V257.2" stroke="#151515" stroke-width="1"/>
<text x="420.80" y="432.00" text-anchor="middle" class="tk">4</text>
<path d="M483.20,417.5V414.5M483.20,254.2V257.2" stroke="#151515" stroke-width="1"/>
<text x="483.20" y="432.00" text-anchor="middle" class="tk">6</text>
<path d="M296,254.20H299" stroke="#151515" stroke-width="1"/>
<text x="292.80" y="258.80" text-anchor="end" class="tk">1.6</text>
<path d="M296,281.30H299" stroke="#151515" stroke-width="1"/>
<text x="292.80" y="285.90" text-anchor="end" class="tk">1.4</text>
<path d="M296,308.40H299" stroke="#151515" stroke-width="1"/>
<text x="292.80" y="313.00" text-anchor="end" class="tk">1.2</text>
<path d="M296,335.50H299" stroke="#151515" stroke-width="1"/>
<text x="292.80" y="340.10" text-anchor="end" class="tk">1</text>
<path d="M296,362.60H299" stroke="#151515" stroke-width="1"/>
<text x="292.80" y="367.20" text-anchor="end" class="tk">0.8</text>
<path d="M296,389.80H299" stroke="#151515" stroke-width="1"/>
<text x="292.80" y="394.40" text-anchor="end" class="tk">0.6</text>
<path d="M296,417.00H299" stroke="#151515" stroke-width="1"/>
<text x="292.80" y="421.60" text-anchor="end" class="tk">0.4</text>
<path d="M483,276.50H480" stroke="#151515" stroke-width="1"/>
<text x="486.40" y="280.80" class="tk">2.5</text>
<path d="M483,309.40H480" stroke="#151515" stroke-width="1"/>
<text x="486.40" y="313.70" class="tk">2</text>
<path d="M483,342.30H480" stroke="#151515" stroke-width="1"/>
<text x="486.40" y="346.60" class="tk">1.5</text>
<path d="M483,375.20H480" stroke="#151515" stroke-width="1"/>
<text x="486.40" y="379.50" class="tk">1</text>
<path d="M483,408.10H480" stroke="#151515" stroke-width="1"/>
<text x="486.40" y="412.40" class="tk">0.5</text>
<text x="354" y="245" class="ti"><tspan font-style="italic">d</tspan> = 0.75 mm</text>
<text y="445.6" class="al"><tspan x="288.60">Distance from initial meniscus</tspan><tspan x="454.80" font-style="italic">L</tspan><tspan x="466.60" font-weight="normal" font-size="12.8">[mm]</tspan></text>
<text transform="translate(273.5,405.05) rotate(-90)" class="al"><tspan x="0">Penetration depth</tspan><tspan x="100.3" font-style="italic">D</tspan><tspan x="114" font-weight="normal" font-size="12.3">[mm]</tspan></text>
<text transform="translate(513.8,417.35) rotate(-90)" class="al"><tspan x="0">Jet pressure impulse</tspan><tspan x="117" font-style="italic">Π</tspan><tspan x="130" dy="0.8" font-weight="normal" font-size="12">[Pa · s]</tspan></text>
<path d="M484.30,243.40l6.2,6.2M484.30,249.60l6.2,-6.2" stroke="#1a1a1a" stroke-width="0.95"/>
<text x="494.80" y="250" class="tk" style="font-size:12.5px">10<tspan dy="-5.5" font-size="8">2</tspan></text>
<rect x="385" y="377.4" width="94" height="36.7" fill="#fff" stroke="#151515" stroke-width="1.3"/>
<path d="M391.51,388.41L396.09,388.41L393.80,383.34Z" fill="#fff" stroke="#E020D8" stroke-width="1.3"/>
<path d="M391.90,395.10L395.70,398.90M391.90,398.90L395.70,395.10" stroke="#D818D0" stroke-width="1.6"/>
<line x1="390" y1="407.5" x2="398" y2="407.5" stroke="#E020E0" stroke-width="1.2" stroke-dasharray="2.5,2.5"/>
<text x="401.8" y="389.0" class="lg"><tspan font-style="italic">D</tspan> (Focused shape)</text>
<text x="401.8" y="399.4" class="lg">Π (Focused shape)</text>
<text x="401.8" y="409.7" class="lg">Π (Cylindrical shape)</text>
<clipPath id="c162482"><rect x="162" y="482" width="196.00" height="163.50"/></clipPath>
<g clip-path="url(#c162482)">
<line x1="162" y1="601.3" x2="358" y2="601.3" stroke="#30DCDC" stroke-width="1.2" stroke-dasharray="2.6,2.3"/>
<path d="M179.50,567.60V619.90M177.90,567.60H181.10M177.90,619.90H181.10" stroke="#9CBACC" stroke-width="1" fill="none"/>
<path d="M179.50,591.20L181.45,593.70L179.50,596.20L177.55,593.70Z" fill="#fff" stroke="#5AA2CC" stroke-width="1.15"/>
<path d="M193.50,559.20V583.40M191.90,559.20H195.10M191.90,583.40H195.10" stroke="#9CBACC" stroke-width="1" fill="none"/>
<path d="M193.50,569.00L195.45,571.50L193.50,574.00L191.55,571.50Z" fill="#fff" stroke="#5AA2CC" stroke-width="1.15"/>
<path d="M209.50,556.80V582.20M207.90,556.80H211.10M207.90,582.20H211.10" stroke="#9CBACC" stroke-width="1" fill="none"/>
<path d="M209.50,566.90L211.45,569.40L209.50,571.90L207.55,569.40Z" fill="#fff" stroke="#5AA2CC" stroke-width="1.15"/>
<path d="M224.50,526.40V559.50M222.90,526.40H226.10M222.90,559.50H226.10" stroke="#9CBACC" stroke-width="1" fill="none"/>
<path d="M224.50,540.30L226.45,542.80L224.50,545.30L222.55,542.80Z" fill="#fff" stroke="#5AA2CC" stroke-width="1.15"/>
<path d="M241.50,501.80V547.20M239.90,501.80H243.10M239.90,547.20H243.10" stroke="#9CBACC" stroke-width="1" fill="none"/>
<path d="M241.50,522.30L243.45,524.80L241.50,527.30L239.55,524.80Z" fill="#fff" stroke="#5AA2CC" stroke-width="1.15"/>
<path d="M262.50,534.00V545.60M260.90,534.00H264.10M260.90,545.60H264.10" stroke="#9CBACC" stroke-width="1" fill="none"/>
<path d="M262.50,536.50L264.45,539.00L262.50,541.50L260.55,539.00Z" fill="#fff" stroke="#5AA2CC" stroke-width="1.15"/>
<path d="M292.50,552.90V562.00M290.90,552.90H294.10M290.90,562.00H294.10" stroke="#9CBACC" stroke-width="1" fill="none"/>
<path d="M292.50,555.20L294.45,557.70L292.50,560.20L290.55,557.70Z" fill="#fff" stroke="#5AA2CC" stroke-width="1.15"/>
<path d="M330.50,548.70V567.80M328.90,548.70H332.10M328.90,567.80H332.10" stroke="#9CBACC" stroke-width="1" fill="none"/>
<path d="M330.50,556.10L332.45,558.60L330.50,561.10L328.55,558.60Z" fill="#fff" stroke="#5AA2CC" stroke-width="1.15"/>
<path d="M177.00,625.40L179.80,628.20M177.00,628.20L179.80,625.40" stroke="#22E2DC" stroke-width="1.45"/>
<path d="M180.60,607.10L183.40,609.90M180.60,609.90L183.40,607.10" stroke="#22E2DC" stroke-width="1.45"/>
<path d="M183.60,594.60L186.40,597.40M183.60,597.40L186.40,594.60" stroke="#22E2DC" stroke-width="1.45"/>
<path d="M186.60,584.60L189.40,587.40M186.60,587.40L189.40,584.60" stroke="#22E2DC" stroke-width="1.45"/>
<path d="M189.90,577.60L192.70,580.40M189.90,580.40L192.70,577.60" stroke="#22E2DC" stroke-width="1.45"/>
<path d="M192.40,570.00L195.20,572.80M192.40,572.80L195.20,570.00" stroke="#22E2DC" stroke-width="1.45"/>
<path d="M196.80,564.20L199.60,567.00M196.80,567.00L199.60,564.20" stroke="#22E2DC" stroke-width="1.45"/>
<path d="M199.90,557.20L202.70,560.00M199.90,560.00L202.70,557.20" stroke="#22E2DC" stroke-width="1.45"/>
<path d="M203.00,553.10L205.80,555.90M203.00,555.90L205.80,553.10" stroke="#22E2DC" stroke-width="1.45"/>
<path d="M206.00,550.90L208.80,553.70M206.00,553.70L208.80,550.90" stroke="#22E2DC" stroke-width="1.45"/>
<path d="M208.90,546.60L211.70,549.40M208.90,549.40L211.70,546.60" stroke="#22E2DC" stroke-width="1.45"/>
<path d="M211.90,541.60L214.70,544.40M211.90,544.40L214.70,541.60" stroke="#22E2DC" stroke-width="1.45"/>
<path d="M214.90,538.20L217.70,541.00M214.90,541.00L217.70,538.20" stroke="#22E2DC" stroke-width="1.45"/>
<path d="M217.90,535.60L220.70,538.40M217.90,538.40L220.70,535.60" stroke="#22E2DC" stroke-width="1.45"/>
<path d="M220.60,534.20L223.40,537.00M220.60,537.00L223.40,534.20" stroke="#22E2DC" stroke-width="1.45"/>
<path d="M223.20,533.60L226.00,536.40M223.20,536.40L226.00,533.60" stroke="#22E2DC" stroke-width="1.45"/>
<path d="M225.90,531.60L228.70,534.40M225.90,534.40L228.70,531.60" stroke="#22E2DC" stroke-width="1.45"/>
<path d="M228.80,531.40L231.60,534.20M228.80,534.20L231.60,531.40" stroke="#22E2DC" stroke-width="1.45"/>
<path d="M231.80,531.80L234.60,534.60M231.80,534.60L234.60,531.80" stroke="#22E2DC" stroke-width="1.45"/>
<path d="M234.80,532.00L237.60,534.80M234.80,534.80L237.60,532.00" stroke="#22E2DC" stroke-width="1.45"/>
<path d="M237.80,532.00L240.60,534.80M237.80,534.80L240.60,532.00" stroke="#22E2DC" stroke-width="1.45"/>
<path d="M240.80,532.00L243.60,534.80M240.80,534.80L243.60,532.00" stroke="#22E2DC" stroke-width="1.45"/>
<path d="M243.80,532.40L246.60,535.20M243.80,535.20L246.60,532.40" stroke="#22E2DC" stroke-width="1.45"/>
<path d="M246.80,532.40L249.60,535.20M246.80,535.20L249.60,532.40" stroke="#22E2DC" stroke-width="1.45"/>
<path d="M249.80,532.40L252.60,535.20M249.80,535.20L252.60,532.40" stroke="#22E2DC" stroke-width="1.45"/>
<path d="M252.80,532.80L255.60,535.60M252.80,535.60L255.60,532.80" stroke="#22E2DC" stroke-width="1.45"/>
<path d="M255.80,533.40L258.60,536.20M255.80,536.20L258.60,533.40" stroke="#22E2DC" stroke-width="1.45"/>
<path d="M258.80,534.00L261.60,536.80M258.80,536.80L261.60,534.00" stroke="#22E2DC" stroke-width="1.45"/>
<path d="M261.80,534.40L264.60,537.20M261.80,537.20L264.60,534.40" stroke="#22E2DC" stroke-width="1.45"/>
<path d="M264.80,535.00L267.60,537.80M264.80,537.80L267.60,535.00" stroke="#22E2DC" stroke-width="1.45"/>
<path d="M267.80,536.00L270.60,538.80M267.80,538.80L270.60,536.00" stroke="#22E2DC" stroke-width="1.45"/>
<path d="M271.10,537.20L273.90,540.00M271.10,540.00L273.90,537.20" stroke="#22E2DC" stroke-width="1.45"/>
<path d="M274.40,538.40L277.20,541.20M274.40,541.20L277.20,538.40" stroke="#22E2DC" stroke-width="1.45"/>
<path d="M277.60,540.00L280.40,542.80M277.60,542.80L280.40,540.00" stroke="#22E2DC" stroke-width="1.45"/>
<path d="M280.60,541.60L283.40,544.40M280.60,544.40L283.40,541.60" stroke="#22E2DC" stroke-width="1.45"/>
<path d="M283.60,540.80L286.40,543.60M283.60,543.60L286.40,540.80" stroke="#22E2DC" stroke-width="1.45"/>
<path d="M286.60,541.20L289.40,544.00M286.60,544.00L289.40,541.20" stroke="#22E2DC" stroke-width="1.45"/>
<path d="M289.10,542.20L291.90,545.00M289.10,545.00L291.90,542.20" stroke="#22E2DC" stroke-width="1.45"/>
<path d="M291.60,546.90L294.40,549.70M291.60,549.70L294.40,546.90" stroke="#22E2DC" stroke-width="1.45"/>
<path d="M294.40,551.20L297.20,554.00M294.40,554.00L297.20,551.20" stroke="#22E2DC" stroke-width="1.45"/>
<path d="M297.40,552.80L300.20,555.60M297.40,555.60L300.20,552.80" stroke="#22E2DC" stroke-width="1.45"/>
<path d="M300.50,553.30L303.30,556.10M300.50,556.10L303.30,553.30" stroke="#22E2DC" stroke-width="1.45"/>
<path d="M303.60,553.90L306.40,556.70M303.60,556.70L306.40,553.90" stroke="#22E2DC" stroke-width="1.45"/>
<path d="M306.60,554.60L309.40,557.40M306.60,557.40L309.40,554.60" stroke="#22E2DC" stroke-width="1.45"/>
<path d="M309.60,556.00L312.40,558.80M309.60,558.80L312.40,556.00" stroke="#22E2DC" stroke-width="1.45"/>
<path d="M312.30,557.60L315.10,560.40M312.30,560.40L315.10,557.60" stroke="#22E2DC" stroke-width="1.45"/>
<path d="M315.00,559.60L317.80,562.40M315.00,562.40L317.80,559.60" stroke="#22E2DC" stroke-width="1.45"/>
<path d="M317.70,562.30L320.50,565.10M317.70,565.10L320.50,562.30" stroke="#22E2DC" stroke-width="1.45"/>
<path d="M320.40,561.40L323.20,564.20M320.40,564.20L323.20,561.40" stroke="#22E2DC" stroke-width="1.45"/>
<path d="M323.80,557.40L326.60,560.20M323.80,560.20L326.60,557.40" stroke="#22E2DC" stroke-width="1.45"/>
</g>
<rect x="162" y="482" width="196.00" height="163.50" fill="none" stroke="#151515" stroke-width="1.2"/>
<path d="M162.00,645.5V642.5M162.00,482V485" stroke="#151515" stroke-width="1"/>
<text x="162.00" y="660.00" text-anchor="middle" class="tk">0</text>
<path d="M227.80,645.5V642.5M227.80,482V485" stroke="#151515" stroke-width="1"/>
<text x="227.80" y="660.00" text-anchor="middle" class="tk">2</text>
<path d="M293.60,645.5V642.5M293.60,482V485" stroke="#151515" stroke-width="1"/>
<text x="293.60" y="660.00" text-anchor="middle" class="tk">4</text>
<path d="M359.40,645.5V642.5M359.40,482V485" stroke="#151515" stroke-width="1"/>
<text x="359.40" y="660.00" text-anchor="middle" class="tk">6</text>
<path d="M162,482.00H165" stroke="#151515" stroke-width="1"/>
<text x="158.30" y="486.60" text-anchor="end" class="tk">2.5</text>
<path d="M162,514.60H165" stroke="#151515" stroke-width="1"/>
<text x="158.30" y="519.20" text-anchor="end" class="tk">2</text>
<path d="M162,547.20H165" stroke="#151515" stroke-width="1"/>
<text x="158.30" y="551.80" text-anchor="end" class="tk">1.5</text>
<path d="M162,579.80H165" stroke="#151515" stroke-width="1"/>
<text x="158.30" y="584.40" text-anchor="end" class="tk">1</text>
<path d="M162,612.40H165" stroke="#151515" stroke-width="1"/>
<text x="158.30" y="617.00" text-anchor="end" class="tk">0.5</text>
<path d="M162,645.00H165" stroke="#151515" stroke-width="1"/>
<text x="158.30" y="649.60" text-anchor="end" class="tk">0</text>
<path d="M358,500.20H355" stroke="#151515" stroke-width="1"/>
<text x="360.70" y="504.50" class="tk">5</text>
<path d="M358,533.05H355" stroke="#151515" stroke-width="1"/>
<text x="360.70" y="537.35" class="tk">4</text>
<path d="M358,565.90H355" stroke="#151515" stroke-width="1"/>
<text x="360.70" y="570.20" class="tk">3</text>
<path d="M358,598.75H355" stroke="#151515" stroke-width="1"/>
<text x="360.70" y="603.05" class="tk">2</text>
<path d="M358,631.60H355" stroke="#151515" stroke-width="1"/>
<text x="360.70" y="635.90" class="tk">1</text>
<text x="219" y="471.4" class="ti"><tspan font-style="italic">d</tspan> = 1.0 mm</text>
<text y="673.5" class="al"><tspan x="158.80">Distance from initial meniscus</tspan><tspan x="325.00" font-style="italic">L</tspan><tspan x="336.80" font-weight="normal" font-size="12.8">[mm]</tspan></text>
<text transform="translate(140.5,632.95) rotate(-90)" class="al"><tspan x="0">Penetration depth</tspan><tspan x="100.3" font-style="italic">D</tspan><tspan x="114" font-weight="normal" font-size="12.3">[mm]</tspan></text>
<text transform="translate(380,645.25) rotate(-90)" class="al"><tspan x="0">Jet pressure impulse</tspan><tspan x="117" font-style="italic">Π</tspan><tspan x="130" dy="0.8" font-weight="normal" font-size="12">[Pa · s]</tspan></text>
<path d="M354.70,469.40l6.2,6.2M354.70,475.60l6.2,-6.2" stroke="#1a1a1a" stroke-width="0.95"/>
<text x="365.20" y="476" class="tk" style="font-size:12.5px">10<tspan dy="-5.5" font-size="8">2</tspan></text>
<rect x="259.4" y="486" width="94" height="36.7" fill="#fff" stroke="#151515" stroke-width="1.3"/>
<path d="M268.20,492.20L270.23,494.80L268.20,497.40L266.17,494.80Z" fill="#fff" stroke="#5AA2CC" stroke-width="1.3"/>
<path d="M266.30,503.70L270.10,507.50M266.30,507.50L270.10,503.70" stroke="#22E2DC" stroke-width="1.6"/>
<line x1="264.4" y1="516.1" x2="272.4" y2="516.1" stroke="#30DCDC" stroke-width="1.2" stroke-dasharray="2.5,2.5"/>
<text x="276.2" y="497.6" class="lg"><tspan font-style="italic">D</tspan> (Focused shape)</text>
<text x="276.2" y="508.0" class="lg">Π (Focused shape)</text>
<text x="276.2" y="518.3" class="lg">Π (Cylindrical shape)</text>
</svg>
</body></html>
